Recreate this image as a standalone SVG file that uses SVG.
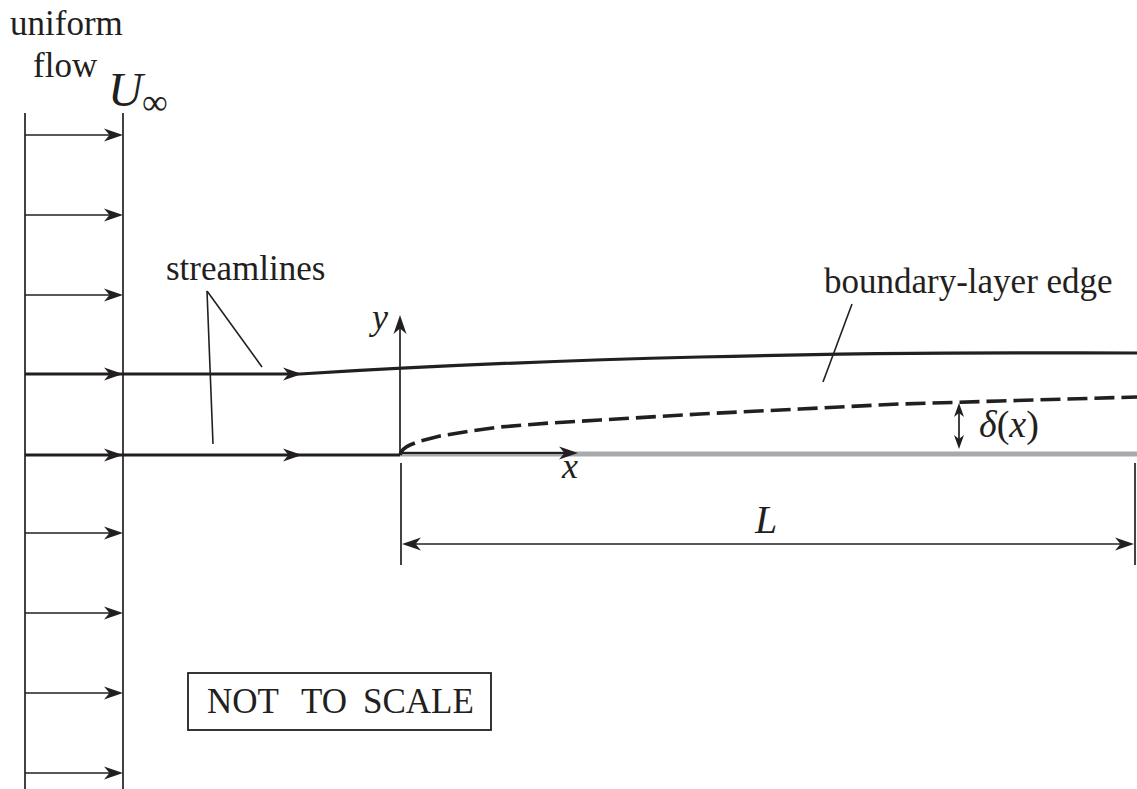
<svg xmlns="http://www.w3.org/2000/svg" xmlns:xlink="http://www.w3.org/1999/xlink" width="1137" height="789" viewBox="0 0 1137 789">
<style>
  .t { font-family: "Liberation Serif", "Times New Roman", "DejaVu Serif", serif; fill: #231f20; }
  .it { font-style: italic; }
  .thin { stroke: #231f20; stroke-width: 1.7; fill: none; }
  .thick { stroke: #231f20; stroke-width: 3.2; fill: none; }
  .lead { stroke: #231f20; stroke-width: 1.6; fill: none; }
  .hd { fill: #231f20; }
</style>
<defs>
  <path id="hd" d="M0,0 L-19,-6.5 L-13.5,0 L-19,6.5 Z"/>
  <path id="hs" d="M0,0 L-14,-5 L-10,0 L-14,5 Z"/>
</defs>
<rect width="1137" height="789" fill="#ffffff"/>

<g id="uniform-flow">
  <line class="thin" x1="25" y1="113" x2="25" y2="789"/>
  <line class="thin" x1="123" y1="113" x2="123" y2="789"/>
  <line class="thin" x1="25" y1="135" x2="115" y2="135"/>
  <line class="thin" x1="25" y1="215" x2="115" y2="215"/>
  <line class="thin" x1="25" y1="295" x2="115" y2="295"/>
  <line class="thin" x1="25" y1="533" x2="115" y2="533"/>
  <line class="thin" x1="25" y1="613" x2="115" y2="613"/>
  <line class="thin" x1="25" y1="693" x2="115" y2="693"/>
  <line class="thin" x1="25" y1="773" x2="115" y2="773"/>
  <g class="hd">
    <use xlink:href="#hd" transform="translate(123,135)"/>
    <use xlink:href="#hd" transform="translate(123,215)"/>
    <use xlink:href="#hd" transform="translate(123,295)"/>
    <use xlink:href="#hd" transform="translate(123,374)"/>
    <use xlink:href="#hd" transform="translate(123,455)"/>
    <use xlink:href="#hd" transform="translate(123,533)"/>
    <use xlink:href="#hd" transform="translate(123,613)"/>
    <use xlink:href="#hd" transform="translate(123,693)"/>
    <use xlink:href="#hd" transform="translate(123,773)"/>
  </g>
  <text class="t" x="10" y="35" font-size="35">uniform</text>
  <text class="t" x="33" y="77" font-size="35">flow</text>
  <text class="t it" x="108" y="106" font-size="48">U</text>
  <text class="t" x="142" y="114" font-size="36">∞</text>
</g>

<g id="plate">
  <line x1="400" y1="454" x2="1137" y2="454" stroke="#a7a9ac" stroke-width="5"/>
</g>

<g id="connectors">
  <path class="thick" d="M25,374 H300 C380,369 500,362 700,357 S1000,353 1137,353"/>
  <path class="thick" d="M25,455 H400"/>
  <g class="hd">
    <use xlink:href="#hd" transform="translate(302,374)"/>
    <use xlink:href="#hd" transform="translate(302,455)"/>
  </g>
  <path d="M400,455 C401,451 403,448 410,445 L420,441 L440,436 L470,431 L500,427 L550,423 L600,420 L700,414 L800,409 L900,404 L1000,401 L1137,397" fill="none" stroke="#231f20" stroke-width="3.6" stroke-dasharray="20,7"/>
  <line class="lead" x1="207" y1="291" x2="262" y2="367"/>
  <line class="lead" x1="207" y1="291" x2="213" y2="444"/>
  <line class="lead" x1="852" y1="304" x2="823" y2="382"/>
</g>

<g id="axes">
  <line class="thin" x1="400" y1="455" x2="400" y2="325"/>
  <use class="hd" xlink:href="#hd" transform="translate(400,315) rotate(-90)"/>
  <line x1="400" y1="453" x2="570" y2="453" stroke="#231f20" stroke-width="2"/>
  <use class="hd" xlink:href="#hd" transform="translate(578,453)"/>
  <text class="t it" x="372" y="329" font-size="36">y</text>
  <text class="t it" x="562" y="478" font-size="36">x</text>
</g>

<g id="thickness">
  <line class="thin" x1="959" y1="410" x2="959" y2="441"/>
  <use class="hd" xlink:href="#hs" transform="translate(959,403) rotate(-90)"/>
  <use class="hd" xlink:href="#hs" transform="translate(959,449) rotate(90)"/>
  <text class="t" x="979" y="437" font-size="38"><tspan class="it">δ</tspan>(<tspan class="it">x</tspan>)</text>
</g>

<g id="dimension-L">
  <line class="thin" x1="401" y1="463" x2="401" y2="565"/>
  <line class="thin" x1="1135" y1="463" x2="1135" y2="565"/>
  <line class="thin" x1="410" y1="544" x2="1126" y2="544"/>
  <use class="hd" xlink:href="#hd" transform="translate(402,544) rotate(180)"/>
  <use class="hd" xlink:href="#hd" transform="translate(1134,544)"/>
  <text class="t it" x="755" y="533" font-size="40">L</text>
</g>

<g id="labels">
  <text class="t" x="166" y="280" font-size="35">streamlines</text>
  <text class="t" x="824" y="293" font-size="35">boundary-layer edge</text>
</g>

<g id="note">
  <rect x="188" y="673" width="303" height="57" fill="none" stroke="#231f20" stroke-width="1.8"/>
  <text class="t" y="713" font-size="35"><tspan x="207">NOT</tspan><tspan x="301">TO</tspan><tspan x="363">SCALE</tspan></text>
</g>
</svg>
